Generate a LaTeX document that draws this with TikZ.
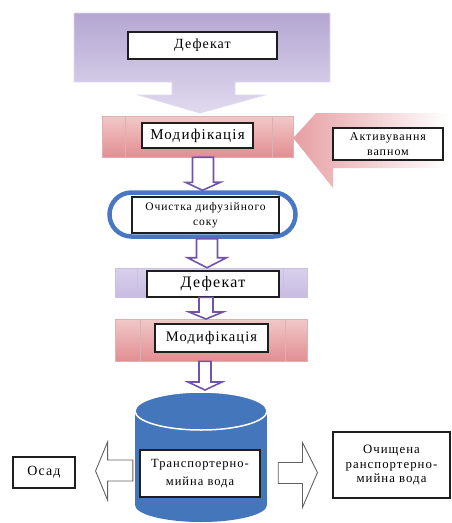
\documentclass[tikz,border=0pt]{standalone}
\usepackage{fontspec}
\setmainfont{Liberation Serif}
\newfontfamily\sparse[LetterSpace=8]{Liberation Serif}
\usepackage{xcolor}
\usepackage{tikz}
\usetikzlibrary{calc,shadings}
\definecolor{figline}{RGB}{30,30,30}
\definecolor{purtop}{RGB}{180,166,210}
\definecolor{purbot}{RGB}{224,218,238}
\definecolor{purlav}{RGB}{200,188,226}
\definecolor{purmark}{RGB}{112,84,170}
\definecolor{pinktop}{RGB}{242,200,200}
\definecolor{pinkbot}{RGB}{226,142,146}
\definecolor{pinkline}{RGB}{222,176,178}
\definecolor{ringblue}{RGB}{72,120,196}
\definecolor{tankblue}{RGB}{68,118,188}
\tikzset{
  tb/.style  ={draw=figline, line width=1.1pt, fill=white, inner sep=1pt, align=center},
  pinkbar/.style ={draw=pinkline, line width=0.6pt, top color=pinktop, bottom color=pinkbot, inner sep=0pt},
  purbar/.style  ={draw=purtop!70, line width=0.6pt, top color=purlav!70, bottom color=purlav, inner sep=0pt},
  ptr/.style ={draw=purmark, fill=white, line width=1.6pt, line join=miter},
  hol/.style ={draw=figline!70, fill=white, line width=0.9pt, line join=miter},
}

\begin{document}
\begin{tikzpicture}[x=1pt,y=-1pt]
  \useasboundingbox (0,0) rectangle (451,523);
  % big incoming arrow
  \draw[draw=purtop!40, line width=0.8pt, top color=purtop, bottom color=purbot]
    (74,13) -- (330,13) -- (330,82) -- (235,82) -- (235,95) -- (265,95) -- (200,113)
    -- (138,95) -- (172,95) -- (172,82) -- (74,82) -- cycle;
  \node[tb, minimum width=149pt, minimum height=27pt, font=\sparse\fontsize{14}{16}\selectfont] (defA) at (202.5,45.5) {Дефекат};
  % first modification bar
  \node[pinkbar, minimum width=191pt, minimum height=41pt] (barA) at (197.5,136.5) {};
  \draw[pinkline] ($(barA.north west)+(23,0)$) -- ($(barA.south west)+(23,0)$);
  \draw[pinkline] ($(barA.north east)+(-21,0)$) -- ($(barA.south east)+(-21,0)$);
  \node[tb, minimum width=111pt, minimum height=25pt, font=\sparse\fontsize{15}{17}\selectfont] (modA) at (197.5,135.5) {Модифікація};
  % side callout
  \shade[left color=pinkbot!85, right color=white]
    (barA.east) ++(0,1.5) -- (316,113) -- (448,113) -- (448,168) -- (333,168) -- (333,188) -- cycle;
  \node[tb, minimum width=110pt, minimum height=32pt, font=\sparse\fontsize{12}{15}\selectfont] (act) at (388,144) {Активування\\вапном};
  % cleaning
  \node[draw=ringblue, line width=4.5pt, rounded corners=22pt, minimum width=186pt, minimum height=44pt] (ring) at (202.5,214.5) {};
  \node[tb, minimum width=147pt, minimum height=36pt, font=\sparse\fontsize{11.5}{15}\selectfont] (clean) at (205.5,215) {Очистка дифузійного\\соку};
  \draw[ptr] ($(ring.north |- barA.south)+(-10,0)$) -- ++(0,25) -- ++(-7,0) -- (ring.north)
    -- ++(18,-8) -- ++(-7,0) -- ++(0,-25) -- cycle;
  % second defecation
  \node[purbar, minimum width=192pt, minimum height=29pt] (barB) at (211,282.5) {};
  \draw[purtop!70] ($(barB.north west)+(22,0)$) -- ($(barB.south west)+(22,0)$);
  \draw[purtop!70] ($(barB.north east)+(-24,0)$) -- ($(barB.south east)+(-24,0)$);
  \node[tb, minimum width=132pt, minimum height=26pt, font=\sparse\fontsize{16}{18}\selectfont] (defB) at (213,284) {Дефекат};
  \draw[ptr] ($(barB.north -| ring.south)+(4.5,0)$) coordinate (tipB)
    -- ++(-19.5,-10) -- ++(9,0) -- ($(tipB |- ring.south)+(-10.5,0)$) -- ++(21,0)
    -- ($(tipB)+(10.5,-10)$) -- ++(9,0) -- cycle;
  % second modification
  \node[pinkbar, minimum width=192pt, minimum height=42pt] (barC) at (211,340) {};
  \draw[pinkline] ($(barC.north west)+(25,0)$) -- ($(barC.south west)+(25,0)$);
  \draw[pinkline] ($(barC.north east)+(-22,0)$) -- ($(barC.south east)+(-22,0)$);
  \node[tb, minimum width=113pt, minimum height=28pt, font=\sparse\fontsize{14.5}{17}\selectfont] (modB) at (211.5,338) {Модифікація};
  \draw[ptr] (206,319) coordinate (tipC)
    -- ++(-17,-7) -- ++(10,0) -- ($(tipC |- barB.south)+(-7,0)$) -- ++(14,0)
    -- ($(tipC)+(7,-7)$) -- ++(10,0) -- cycle;
  % tank
  \fill[tankblue] (135,411) rectangle (267,505);
  \fill[tankblue] (201,505) ellipse [x radius=66, y radius=17];
  \draw[white, line width=1.5pt, fill=tankblue] (201,411) ellipse [x radius=66, y radius=19];
  \node[minimum width=132pt, minimum height=94pt, inner sep=0pt] (tank) at (201,458) {};
  \node[tb, minimum width=120pt, minimum height=47pt, font=\sparse\fontsize{12.5}{18}\selectfont] (tankbox) at (200,473.5) {Транспортерно-\\мийна вода};
  \draw[ptr] (205,390) coordinate (tipD)
    -- ++(-17,-8) -- ++(11,0) -- ($(tipD |- barC.south)+(-6,0)$) -- ++(12,0)
    -- ($(tipD)+(6,-8)$) -- ++(11,0) -- cycle;
  % outputs
  \node[tb, minimum width=62pt, minimum height=31pt, font=\sparse\fontsize{14}{16}\selectfont] (osad) at (44,472.5) {Осад};
  \node[tb, minimum width=117pt, minimum height=66pt, font=\sparse\fontsize{12.8}{14.5}\selectfont] (clear) at (391.5,465) {Очищена\\ранспортерно-\\мийна вода};
  \draw[hol] ($(osad.east)+(20,-1.5)$) coordinate (tipL)
    -- ++(12,-29) -- ++(0,18) -- ($(tank.west |- tipL)+(-2,-11)$) -- ++(0,21)
    -- ($(tipL)+(12,10)$) -- ++(0,19) -- cycle;
  \draw[hol] ($(clear.west)+(-15,7.5)$) coordinate (tipR)
    -- ++(-15,-30) -- ++(0,20) -- ($(tank.east |- tipR)+(11,-10)$) -- ++(0,21)
    -- ($(tipR)+(-15,11)$) -- ++(0,24) -- cycle;
\end{tikzpicture}
\end{document}
